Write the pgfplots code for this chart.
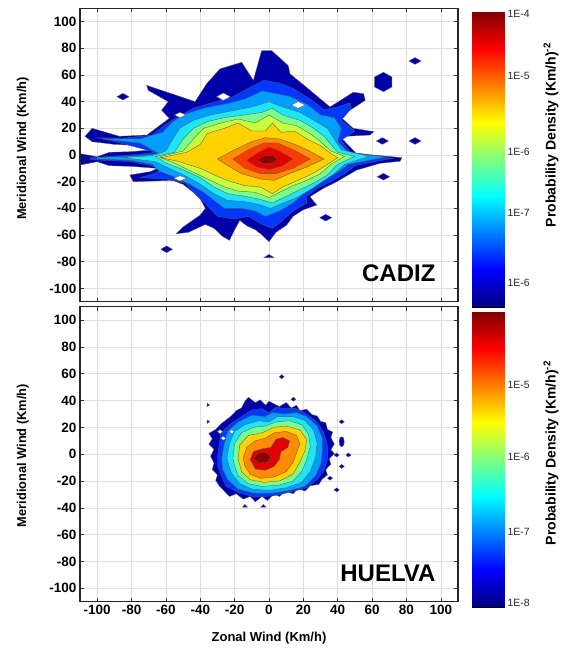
\documentclass[border=0pt]{standalone}
\usepackage{fontspec}
\setmainfont{Liberation Sans}
\usepackage{pgfplots}
\pgfplotsset{compat=1.18}
\definecolor{c1}{RGB}{0,0,170}
\definecolor{c2}{RGB}{0,56,255}
\definecolor{c3}{RGB}{0,158,255}
\definecolor{c4}{RGB}{30,230,250}
\definecolor{c5}{RGB}{120,255,140}
\definecolor{c6}{RGB}{200,255,60}
\definecolor{c7}{RGB}{255,210,0}
\definecolor{c8}{RGB}{255,140,0}
\definecolor{c9}{RGB}{255,60,0}
\definecolor{c10}{RGB}{225,0,0}
\definecolor{c11}{RGB}{140,0,0}
\pgfplotsset{
  windax/.style={scale only axis, width=378pt,
    xmin=-110,xmax=110,ymin=-110,ymax=110,
    xtick={-100,-80,...,100}, ytick={-100,-80,...,100},
    tick align=inside, major tick length=4pt,
    grid=major, major grid style={black!13, line width=0.5pt},
    axis line style={line width=1.2pt, black!85},
    tick style={black!80, line width=0.6pt},
    ticklabel style={font=\fontsize{13.5}{15}\selectfont\bfseries},
    /pgf/number format/assume math mode=true,
    ylabel={Meridional Wind (Km/h)},
    ylabel style={font=\fontsize{12.8}{14}\selectfont\bfseries, anchor=center},
  },
  cl/.style={draw=black!65, line width=0.35pt},
  cbar/.style={scale only axis, width=32pt, height=295pt,
    xmin=0,xmax=1,ymin=0,ymax=1, xtick=\empty,
    yticklabel pos=right, major tick length=0pt,
    point meta min=0, point meta max=1, colormap/jet,
    axis line style={line width=0.5pt, black},
    yticklabel style={font=\fontsize{10.5}{12}\selectfont, black!85},
  },
}
\newcommand\poly[2]{\addplot[fill=#1, cl] coordinates {#2} -- cycle;}
\begin{document}
\begin{tikzpicture}
\useasboundingbox (0,0) rectangle (560pt,651pt);
% ---------------- CADIZ ----------------
\begin{axis}[windax, height=293.4pt, anchor=south west, at={(80pt,349.3pt)},
  xticklabels={},
  ylabel style={at={(axis description cs:-0.151,0.522)}}]
\poly{c1}{(-110,1) (-100,-1.3) (-93,2) (-80,2.5) (-67,4) (-75,7) (-90,8) (-103,10) (-107,14) (-103,20) (-87,14) (-71,15) (-58,27.5) (-62.5,33.6) (-58.6,40) (-70.3,48.5) (-71.2,52.2) (-43,40) (-40,46) (-36.3,53.4) (-28.5,64.6) (-15.9,69.5) (-9.1,55.9) (-4.3,78.2) (1.6,78.2) (11.2,67) (12.2,60.9) (23.9,48.5) (35.5,36) (49,47) (55,46) (56,41) (41.4,28.7) (49,20) (61,17.5) (58.8,15) (41.4,13.8) (50.5,1.5) (58.8,0.2) (77.3,-2) (76.3,-4.7) (64.6,-6.2) (51,-11.3) (39.4,-20) (31.6,-25) (23.8,-31.3) (27.8,-37.5) (20,-41) (14,-46) (10.3,-52.5) (4,-58) (0,-65) (-4,-60) (-8,-56) (-13,-53) (-17,-49) (-20,-56) (-23,-64) (-27,-61) (-32,-55) (-37,-52) (-47,-58) (-54,-59) (-50,-54) (-40,-45) (-37,-40) (-40,-33) (-45,-27) (-50,-22) (-56,-19) (-79,-20) (-81,-15) (-69,-12.5) (-65,-10) (-80,-8.5) (-93,-8) (-100,-5) (-110,-7.5)}
\poly{c2}{(-104,-2) (-80,0) (-66,2) (-85,8.5) (-100,13) (-85,12.5) (-68,15) (-60,23) (-54,28) (-44,35) (-34,39) (-22,43) (-12,50) (-3,56) (6,54) (14,50) (24,42) (32,34) (40,36) (47,39) (48,35) (42,26) (50,18) (42,11) (48,1) (72,-2.5) (50,-8) (44,-14) (36,-20) (28,-25) (22,-31) (22,-36) (14,-42) (8,-49) (2,-55) (-4,-52) (-12,-46) (-20,-48) (-30,-46) (-36,-38) (-42,-30) (-49,-21) (-60,-18) (-75,-17) (-65,-13) (-62,-10) (-80,-5) (-104,-3.5)}
\poly{c3}{(-100,-2) (-75,-0.5) (-64,1) (-75,9) (-97,12) (-75,12) (-62,17) (-56,25) (-48,31) (-38,35) (-26,38) (-14,42) (-4,48) (4,46) (12,44) (22,38) (30,30) (38,28) (42,20) (40,10) (46,2) (68,-1.5) (46,-7) (40,-13) (32,-18) (25,-23) (20,-29) (14,-36) (6,-42) (-2,-46) (-8,-42) (-16,-40) (-26,-40) (-32,-34) (-38,-28) (-46,-22) (-56,-16) (-64,-12) (-68,-7) (-80,-4) (-100,-3)}
\poly{c4}{(-85,-2) (-68,-0.5) (-60,3) (-56,12) (-52,20) (-44,26) (-34,30) (-22,33) (-10,36) (0,40) (8,36) (18,32) (26,26) (34,20) (38,12) (42,4) (58,-1) (44,-7) (38,-14) (31,-20) (24,-26) (16,-32) (8,-36) (1,-40) (-6,-37) (-14,-35) (-24,-34) (-32,-29) (-40,-22) (-48,-16) (-58,-10) (-66,-5)}
\poly{c5}{(-66,-1) (-55,2) (-50,12) (-44,20) (-36,25) (-26,28) (-14,30) (-4,32) (2,35) (8,30) (18,26) (26,20) (32,14) (36,8) (40,2) (50,-1) (40,-7) (34,-15) (26,-21) (18,-26) (10,-31) (2,-36) (-6,-33) (-14,-31) (-24,-29) (-32,-24) (-40,-17) (-50,-11) (-60,-6)}
\poly{c6}{(-64,-1.5) (-50,3) (-44,12) (-38,20) (-28,24) (-18,27) (-8,24) (0,30) (8,24) (16,22) (24,16) (30,10) (36,3) (44,-1) (36,-7) (30,-14) (22,-19) (14,-23) (6,-28) (0,-32) (-8,-28) (-18,-27) (-26,-24) (-34,-19) (-44,-13) (-55,-6)}
\poly{c7}{(-63,-2) (-48,2) (-40,8) (-36,16) (-26,20) (-18,24) (-10,18) (-2,18) (2,24) (7,17) (15,18) (22,12) (30,7) (36,1) (40,-2) (34,-7) (28,-12) (22,-16) (15,-20) (8,-24) (2,-29) (-5,-24) (-14,-23) (-22,-20) (-30,-16) (-40,-10) (-52,-5)}
\poly{c8}{(-30,-3) (-20,4) (-10,10) (-2,13) (6,12) (15,8) (22,4) (32,-3) (22,-9) (12,-14) (3,-19) (-5,-18) (-16,-14) (-24,-8)}
\poly{c9}{(-21,-3) (-12,4) (-3,9) (5,9) (14,4) (24,-3) (14,-10) (4,-14) (-5,-14) (-14,-10)}
\poly{c10}{(-13,-4) (-6,2) (0,6) (6,3) (14,-3) (8,-8) (0,-11) (-7,-9)}
\poly{c11}{(-7,-4) (-2,-0.5) (2,-0.5) (5,-3) (2,-6.5) (-3,-6.5)}
% isolated patches
\poly{c1}{(-88.5,43.7) (-85,46.2) (-81.5,43.7) (-85,41.2)}
\poly{c1}{(61.5,51) (61.5,58.5) (66.6,62) (71.5,58.5) (71.5,51) (66.6,47.5)}
\poly{c1}{(81.5,70.5) (85,73) (88.5,70.5) (85,68)}
\poly{c1}{(62.5,10.5) (66,13) (69.5,10.5) (66,8)}
\poly{c1}{(81.5,10.5) (85,13) (88.5,10.5) (85,8)}
\poly{c1}{(63,-16.3) (66.6,-13.8) (70.2,-16.3) (66.6,-18.8)}
\poly{c1}{(29.5,-47) (33,-44.5) (36.5,-47) (33,-49.5)}
\poly{c1}{(-63,-70.7) (-59.6,-68.2) (-56.2,-70.7) (-59.6,-73.2)}
\poly{c1}{(-3,-77) (0,-74.5) (3,-77)}
% holes
\poly{white}{(-30.5,43.7) (-26.6,46.5) (-22.5,43.7) (-26.6,41)}
\poly{white}{(13,37.5) (17,40) (21,37.5) (17,35)}
\poly{white}{(-55,30) (-51.8,32) (-48.5,30) (-51.8,28)}
\poly{white}{(-55.5,-17.5) (-51.8,-15.5) (-48,-17.5) (-51.8,-19.5)}
\node[anchor=east, inner sep=0pt, font=\fontsize{24}{26}\selectfont\bfseries] at (axis cs:97,-89) {CADIZ};
\draw[line width=1.2pt, black!85] (rel axis cs:0,0) rectangle (rel axis cs:1,1);
\end{axis}
% ---------------- HUELVA ----------------
\begin{axis}[windax, height=295pt, anchor=south west, at={(80pt,49.3pt)},
  xlabel={Zonal Wind (Km/h)},
  xlabel style={font=\fontsize{13}{15}\selectfont\bfseries, at={(axis description cs:0.5,-0.123)}, anchor=center},
  ylabel style={at={(axis description cs:-0.151,0.495)}}]
\poly{c1}{(-12,42.5) (-8,38.5) (-5,40.5) (-2,36.5) (0,39.5) (3,37.5) (6,35.5) (10,38.5) (13,34.5) (16,36.5) (18,32.5) (22,33.5) (25,29.5) (28,28.5) (30,24.5) (33,23.5) (34,18.5) (37,16.5) (36,12.5) (38,7.5) (36,3.5) (38,0.5) (35,-3.5) (36,-7.5) (33,-11.5) (34,-15.5) (31,-18.5) (29,-22.5) (24,-23.5) (21,-27.5) (17,-25.5) (14,-29.5) (10,-27.5) (6,-31.5) (3,-29.5) (-1,-34.5) (-4,-31.5) (-8,-35.5) (-11,-31.5) (-15,-33.5) (-19,-29.5) (-23,-31.5) (-26,-27.5) (-29,-23.5) (-31,-19.5) (-30,-15.5) (-33,-11.5) (-32,-6.5) (-34,-1.5) (-32,3.5) (-35,7.5) (-33,11.5) (-35,15.5) (-31,18.5) (-28,22.5) (-25,25.5) (-22,28.5) (-19,32.5) (-16,34.5) (-14,39.5)}
\poly{c2}{(-30,-3) (-29,7) (-28,16) (-22,23) (-16,28) (-10,33) (-4,34) (0,31) (4,35) (10,34) (16,34) (22,30) (28,24) (32,16) (34,6) (34,-4) (32,-12) (28,-19) (22,-25) (13,-28) (3,-31) (-8,-32) (-17,-29) (-25,-24) (-28,-15) (-30,-8)}
\poly{c3}{(-27.5,-3) (-26,8) (-24,17) (-18,24) (-10,29) (-2,28) (2,31) (9,30) (16,31) (22,28) (28,21) (31,12) (31,2) (30,-8) (27,-16) (21,-24) (12,-27) (2,-29) (-9,-29) (-18,-26) (-24,-19) (-27,-11)}
\poly{c4}{(-24.5,-3) (-23,8) (-20,17) (-14,22) (-6,25) (0,24) (5,28) (14,28) (21,25) (26,18) (28,8) (27,-3) (24,-13) (19,-21) (10,-25) (0,-27) (-10,-26) (-17,-22) (-22,-14)}
\poly{c5}{(-21,-3) (-20,8) (-16,16) (-9,20) (-2,21) (4,24) (12,25) (19,22) (23,15) (24,6) (22,-4) (19,-13) (14,-20) (6,-23) (-4,-24) (-12,-22) (-18,-16) (-20,-9)}
\poly{c7}{(-18,-3) (-17,7) (-12,14) (-4,16) (3,20) (10,21) (18,18) (22,11) (21,3) (18,-6) (14,-15) (6,-20) (-3,-21) (-11,-19) (-16,-13)}
\poly{c8}{(-15,-3) (-13,5) (-8,10) (-2,12) (3,16) (10,17) (16,14) (18,8) (16,1) (14,-6) (10,-13) (3,-17) (-5,-18) (-11,-15) (-14,-9)}
\poly{c10}{(-11,-4) (-9,2) (-4,4) (1,5) (4,11) (8,12.5) (12,10) (11,5) (7,2) (6,-4) (3,-9) (-2,-12) (-8,-11)}
\poly{c11}{(-9,-3) (-6,1) (-2,1.5) (1,-2) (-1,-6) (-6,-6.5)}
% isolated patches
\poly{c1}{(6,57.8) (7.4,59.3) (8.8,57.8) (7.4,56.3)}
\poly{c1}{(12.8,41) (14.2,42.5) (15.6,41) (14.2,39.5)}
\poly{c1}{(-36,35.5) (-36,38) (-34.5,36.7)}
\poly{c1}{(-36,23) (-36,25.5) (-34.5,24.2)}
\poly{c1}{(40.8,24.2) (42.3,25.7) (43.8,24.2) (42.3,22.7)}
\poly{c1}{(40.8,9.3) (41.3,12.3) (42.3,13) (43.3,12.3) (43.8,9.3) (43.3,6.3) (42.3,5.6) (41.3,6.3)}
\poly{c1}{(37.9,-0.6) (39.4,0.9) (40.9,-0.6) (39.4,-2.1)}
\poly{c1}{(44.7,-0.6) (46.2,0.9) (47.7,-0.6) (46.2,-2.1)}
\poly{c1}{(40.8,-9.1) (42.3,-7.6) (43.8,-9.1) (42.3,-10.6)}
\poly{c1}{(34,-17.9) (35.5,-16.4) (37,-17.9) (35.5,-19.4)}
\poly{c1}{(37.9,-26.6) (39.4,-25.1) (40.9,-26.6) (39.4,-28.1)}
\poly{c1}{(-15.5,-39.5) (-14,-37.5) (-12.5,-39.5)}
\poly{c1}{(-4.8,-39.5) (-3.3,-37.5) (-1.8,-39.5)}
% holes
\poly{white}{(-30,16.8) (-28.5,18.3) (-27,16.8) (-28.5,15.3)}
\poly{white}{(-28.1,11.9) (-26.6,13.4) (-25.1,11.9) (-26.6,10.4)}
\poly{white}{(-23.2,16.8) (-21.7,18.3) (-20.2,16.8) (-21.7,15.3)}
\node[anchor=east, inner sep=0pt, font=\fontsize{24}{26}\selectfont\bfseries] at (axis cs:97,-89) {HUELVA};
\draw[line width=1.2pt, black!85] (rel axis cs:0,0) rectangle (rel axis cs:1,1);
\end{axis}
% ---------------- colour bars ----------------
\begin{axis}[cbar, anchor=south west, at={(472pt,344pt)},
  ytick={0.081,0.319,0.526,0.783,0.995}, yticklabels={1E-6,1E-7,1E-6,1E-5,1E-4}]
\addplot[surf, shader=interp, mesh/rows=2, mesh/cols=2, point meta=y] coordinates {(0,0) (1,0) (0,1) (1,1)};
\end{axis}
\begin{axis}[cbar, anchor=south west, at={(472pt,44pt)},
  ytick={0.014,0.254,0.508,0.753}, yticklabels={1E-8,1E-7,1E-6,1E-5}]
\addplot[surf, shader=interp, mesh/rows=2, mesh/cols=2, point meta=y] coordinates {(0,0) (1,0) (0,1) (1,1)};
\end{axis}
\node[rotate=90, font=\fontsize{14}{16}\selectfont\bfseries] at (551pt,516pt) {Probability Density (Km/h)\textsuperscript{-2}};
\node[rotate=90, font=\fontsize{14}{16}\selectfont\bfseries] at (551pt,198pt) {Probability Density (Km/h)\textsuperscript{-2}};
\end{tikzpicture}
\end{document}
